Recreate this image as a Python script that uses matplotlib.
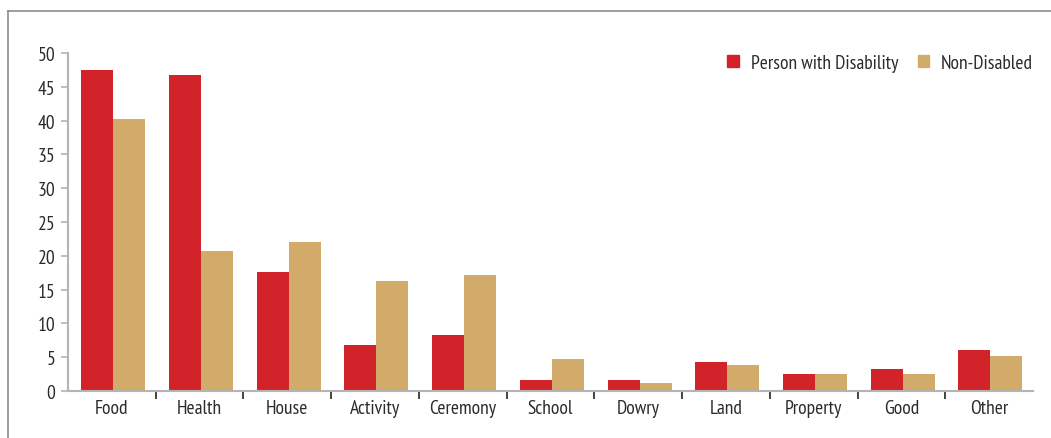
import matplotlib
matplotlib.use("Agg")
import matplotlib.pyplot as plt
import numpy as np
from matplotlib.lines import Line2D
from matplotlib.patches import Patch

categories = ["Food", "Health", "House", "Activity", "Ceremony", "School",
              "Dowry", "Land", "Property", "Good", "Other"]
disabled = [47.5, 46.7, 17.6, 6.8, 8.3, 1.6, 1.6, 4.3, 2.5, 3.2, 6.1]
non_disabled = [40.2, 20.7, 22.0, 16.3, 17.2, 4.7, 1.2, 3.8, 2.5, 2.5, 5.2]
yticks = [0, 5, 10, 15, 20, 25, 30, 35, 40, 45, 50]

RED = "#d2232a"
TAN = "#d2aa6a"
TEXT = "#2b2b2b"
GRID = "#b4b4b4"
FS = 14

plt.rcParams["font.family"] = ["PT Sans Narrow", "DejaVu Sans"]

W, H = 1051, 439
fig = plt.figure(figsize=(W / 100, H / 100), dpi=100)

# outer frame: top and left edges only
fig.add_artist(Line2D([8 / W, 1], [1 - 12 / H, 1 - 12 / H], color="#8c8c8c", lw=1.2))
fig.add_artist(Line2D([8 / W, 8 / W], [0, 1 - 12 / H], color="#8c8c8c", lw=1.2))

ax = fig.add_axes([68 / W, 47 / H, (1033 - 68) / W, (392 - 54) / H])

x = np.arange(len(categories))
width = 0.365
shift = 0.015
ax.bar(x - width / 2 + shift, disabled, width, color=RED, label="Person with Disability")
ax.bar(x + width / 2 + shift, non_disabled, width, color=TAN, label="Non-Disabled")

ax.set_xlim(-0.5, len(categories) - 0.5)
ax.set_ylim(0, 50)
ax.set_yticks(yticks)
ax.set_yticklabels([str(v) for v in yticks], fontsize=FS, color=TEXT)
ax.tick_params(axis="y", length=5, width=1.2, color=GRID, pad=4)

ax.set_xticks(x)
ax.set_xticklabels(categories, fontsize=FS, color=TEXT)
ax.tick_params(axis="x", length=0, pad=6)
# group separators under the axis
ax.set_xticks(np.arange(0.5, len(categories) - 0.5), minor=True)
ax.tick_params(axis="x", which="minor", length=6, width=1.2, color="#222222")

for side in ("top", "right"):
    ax.spines[side].set_visible(False)
for side in ("left", "bottom"):
    ax.spines[side].set_color(GRID)
    ax.spines[side].set_linewidth(1.5)

ax.legend(handles=[Patch(color=RED, label="Person with Disability"),
                   Patch(color=TAN, label="Non-Disabled")],
          loc="upper right", bbox_to_anchor=(1.018, 1.05), ncol=2, frameon=False,
          fontsize=FS, handlelength=0.6, handleheight=0.6,
          handletextpad=0.6, columnspacing=1.0, labelcolor=TEXT)

fig.savefig("out.png", dpi=100)
